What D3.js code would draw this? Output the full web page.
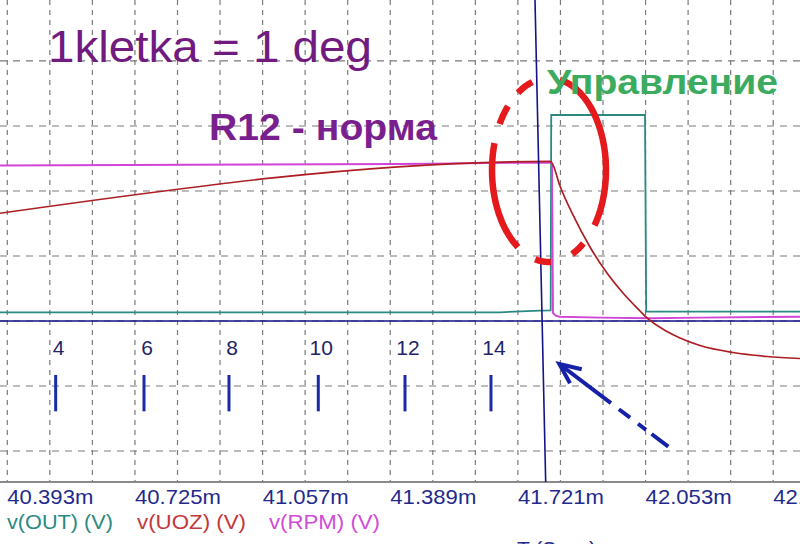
<!DOCTYPE html>
<html><head><meta charset="utf-8">
<script src="https://cdn.jsdelivr.net/npm/d3@7"></script>
<style>body{margin:0;background:#fff;overflow:hidden} svg{display:block}</style>
</head><body>
<script>
// ---- data (time in ms, value in grid units) ----
const xTickValues = [40.393, 40.725, 41.057, 41.389, 41.721, 42.053, 42.385];
const yGridValues = [-2, -1, 0, 1, 2, 3, 4];

const outT = [40.2634, 41.5637, 41.6678, 41.6956, 41.6970, 41.9409, 41.9440, 42.344];
const outV = [0.131, 0.134, 0.158, 0.162, 3.169, 3.169, 0.143, 0.143];

const uozT = [40.2634, 41.6938, 41.6990, 41.7198, 41.7536, 41.7978, 41.8420, 41.8836, 41.9279, 41.9461, 41.9981, 42.0319, 42.0839, 42.1697, 42.2582, 42.344];
const uozV = [1.657, 2.454, 2.431, 2.077, 1.631, 1.138, 0.738, 0.431, 0.154, 0.046, -0.162, -0.262, -0.377, -0.485, -0.546, -0.577];

const rpmT = [40.2634, 41.3037, 41.6925, 41.6990, 41.7016, 41.7094, 41.7198, 41.8238, 41.9539, 42.0839, 42.344];
const rpmV = [2.392, 2.415, 2.438, 2.423, 0.123, 0.077, 0.066, 0.051, 0.042, 0.051, 0.066];

const degT = [40.4082, 40.6379, 40.8589, 41.0912, 41.3167, 41.5403];
const degLabels = ["4", "6", "8", "10", "12", "14"];

const cursorT = [41.6548, 41.6826]; // top, bottom (slanted)
const cursorV = 0;

const legend = ["v(OUT) (V)", "v(UOZ) (V)", "v(RPM) (V)"];

// ---- setup ----
const W = 800, H = 544, plotBottom = 482;
const font = "'Liberation Sans', Arial, sans-serif";
const svg = d3.select("body").append("svg").attr("width", W).attr("height", H)
  .style("background", "#fff");

const x = d3.scaleLinear().domain([40.2634, 42.344]).range([0, W]);
const y = d3.scaleLinear().domain([-2.477, 4.938]).range([plotBottom, 0]);

// grid
const step = (xTickValues[1] - xTickValues[0]) / 3;
const vGrid = d3.range(-1, 18).map(k => xTickValues[0] + k * step);
const grid = svg.append("g").attr("stroke", "#7a7a7a").attr("stroke-width", 1.2);
grid.selectAll("line.v").data(vGrid).join("line").attr("class", "v")
  .attr("x1", d => x(d)).attr("x2", d => x(d)).attr("y1", 0).attr("y2", plotBottom)
  .attr("stroke-dasharray", "5,5");
grid.selectAll("line.h").data(yGridValues).join("line").attr("class", "h")
  .attr("x1", 0).attr("x2", W).attr("y1", d => y(d)).attr("y2", d => y(d))
  .attr("stroke-dasharray", "7,6");

// axis
const axis = d3.axisBottom(x).tickValues(xTickValues).tickSize(0)
  .tickFormat(d => d3.format(".3f")(d) + "m");
const ax = svg.append("g").attr("transform", `translate(0,${plotBottom})`).call(axis);
ax.select(".domain").attr("stroke", "#8a8a8a").attr("stroke-width", 2).attr("d", `M0,0H${W}`);
ax.selectAll("text").attr("fill", "#1f2a8c").attr("font-family", font).attr("font-size", 21)
  .attr("dy", null).attr("y", 22).attr("textLength", 86).attr("lengthAdjust", "spacingAndGlyphs");

// horizontal cursor line
svg.append("line").attr("x1", 0).attr("x2", W).attr("y1", y(cursorV)).attr("y2", y(cursorV))
  .attr("stroke", "#14148a").attr("stroke-width", 1.6);

// traces
const zip = (a, b) => a.map((t, i) => [t, b[i]]);
const line = d3.line().x(d => x(d[0])).y(d => y(d[1]));
const smooth = d3.line().x(d => x(d[0])).y(d => y(d[1])).curve(d3.curveMonotoneX);
svg.append("path").datum(zip(outT, outV)).attr("d", line)
  .attr("fill", "none").attr("stroke", "#2a8a82").attr("stroke-width", 1.8);
svg.append("path").datum(zip(rpmT, rpmV)).attr("d", line)
  .attr("fill", "none").attr("stroke", "#d244d8").attr("stroke-width", 1.9);
svg.append("path").datum(zip(uozT, uozV)).attr("d", smooth)
  .attr("fill", "none").attr("stroke", "#ad1e24").attr("stroke-width", 1.7);

// vertical cursor line
svg.append("line").attr("x1", x(cursorT[0])).attr("x2", x(cursorT[1]))
  .attr("y1", 0).attr("y2", plotBottom).attr("stroke", "#14148a").attr("stroke-width", 1.6);

// degree marks
svg.selectAll("line.deg").data(degT).join("line").attr("class", "deg")
  .attr("x1", d => x(d)).attr("x2", d => x(d)).attr("y1", y(-0.83)).attr("y2", y(-1.39))
  .attr("stroke", "#1a2aa8").attr("stroke-width", 3);
svg.selectAll("text.deg").data(degT).join("text").attr("class", "deg")
  .attr("x", d => x(d) + 3).attr("y", y(-0.523)).attr("text-anchor", "middle")
  .attr("font-family", font).attr("font-size", 21).attr("fill", "#1f2468")
  .text((d, i) => degLabels[i]);

// red dashed ellipse annotation
const ell = {t: 41.6912, v: 2.323, rt: 0.1482, rv: 1.415};
const arcs = [[-79, 37], [53, 66], [88, 104], [123, 197], [210, 224], [237, 253]];
arcs.forEach(([a0, a1]) => {
  const pts = d3.range(a0, a1 + 0.01, 1).map(a => {
    const r = a * Math.PI / 180;
    return [ell.t + ell.rt * Math.cos(r), ell.v - ell.rv * Math.sin(r)];
  });
  svg.append("path").attr("d", line(pts)).attr("fill", "none")
    .attr("stroke", "#e41a1c").attr("stroke-width", 6.5);
});

// blue dashed arrow
const tip = [41.718, -0.662], tail = [42.0015, -1.934];
svg.append("line").attr("x1", x(tail[0])).attr("y1", y(tail[1]))
  .attr("x2", x(tip[0])).attr("y2", y(tip[1]))
  .attr("stroke", "#1522a8").attr("stroke-width", 4)
  .attr("stroke-dasharray", "21,7,10,10,14,10,80");
svg.append("path")
  .attr("d", `M${x(tip[0]) + 22.4},${y(tip[1]) + 5.3}L${x(tip[0])},${y(tip[1])}L${x(tip[0]) + 10.7},${y(tip[1]) + 19.3}`)
  .attr("fill", "none").attr("stroke", "#1522a8").attr("stroke-width", 4)
  .attr("stroke-linejoin", "miter");

// annotation texts
svg.append("text").attr("x", 48).attr("y", 61.5).attr("font-family", font)
  .attr("font-size", 45).attr("fill", "#711a80").attr("textLength", 324)
  .attr("lengthAdjust", "spacingAndGlyphs").text("1kletka = 1 deg");
svg.append("text").attr("x", 209).attr("y", 139.5).attr("font-family", font)
  .attr("font-size", 37).attr("font-weight", "bold").attr("fill", "#7a1f8e")
  .attr("textLength", 228).attr("lengthAdjust", "spacingAndGlyphs").text("R12 - норма");
svg.append("text").attr("x", 547).attr("y", 93.5).attr("font-family", font)
  .attr("font-size", 35).attr("font-weight", "bold").attr("fill", "#3bab5f")
  .attr("textLength", 231).attr("lengthAdjust", "spacingAndGlyphs").text("Управление");

// legend
const legX = [7, 137, 269], legW = [106, 109, 111];
const legC = ["#2a8a82", "#c4383a", "#d04cd4"];
svg.selectAll("text.leg").data(legend).join("text").attr("class", "leg")
  .attr("x", (d, i) => legX[i]).attr("y", 529).attr("font-family", font)
  .attr("font-size", 21).attr("fill", (d, i) => legC[i])
  .attr("textLength", (d, i) => legW[i]).attr("lengthAdjust", "spacingAndGlyphs")
  .text(d => d);

svg.append("text").attr("x", 517).attr("y", 556).attr("font-family", font)
  .attr("font-size", 21).attr("fill", "#1f2a8c").text("T (Secs)");
</script>
</body></html>
